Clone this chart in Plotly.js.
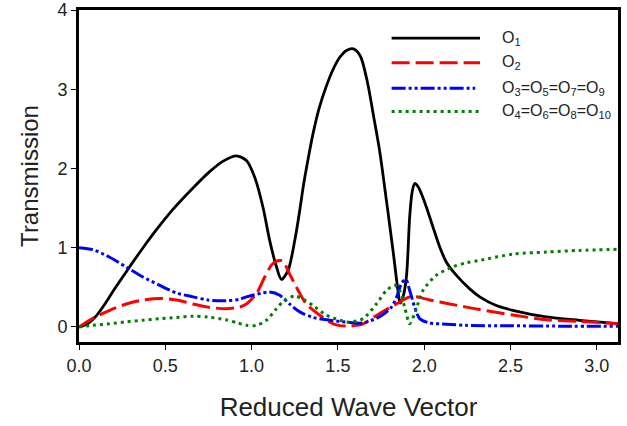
<!DOCTYPE html>
<html>
<head>
<meta charset="utf-8">
<script src="https://cdn.plot.ly/plotly-3.0.1.min.js"></script>
<style>html,body{margin:0;padding:0;background:#fff;}#chart{width:627px;height:426px;}</style>
</head>
<body>
<div id="chart"></div>
<script>
// ---- data ----
const o1X = [0, 0.05, 0.10, 0.15, 0.20, 0.25, 0.30, 0.368, 0.45, 0.543, 0.659, 0.757, 0.833, 0.912, 0.97, 1.018, 1.066, 1.105, 1.144, 1.173, 1.211, 1.25, 1.279, 1.30, 1.33, 1.356, 1.39, 1.43, 1.47, 1.51, 1.55, 1.59, 1.63, 1.67, 1.71, 1.742, 1.781, 1.819, 1.848, 1.86, 1.875, 1.897, 1.916, 1.93, 1.945, 1.965, 1.984, 2.013, 2.051, 2.09, 2.128, 2.187, 2.264, 2.322, 2.418, 2.513, 2.708, 2.90, 3.123];
const o1Y = [0, 0.04, 0.14, 0.29, 0.46, 0.62, 0.78, 0.99, 1.23, 1.48, 1.75, 1.96, 2.09, 2.16, 2.10, 1.89, 1.51, 1.09, 0.76, 0.60, 0.71, 1.09, 1.47, 1.78, 2.15, 2.44, 2.75, 3.02, 3.24, 3.40, 3.49, 3.51, 3.42, 3.10, 2.62, 2.22, 1.60, 0.97, 0.46, 0.30, 0.36, 0.63, 1.39, 1.70, 1.81, 1.77, 1.68, 1.51, 1.26, 1.01, 0.82, 0.65, 0.48, 0.38, 0.27, 0.21, 0.126, 0.084, 0.043];

const o2X = [0, 0.081, 0.178, 0.274, 0.371, 0.468, 0.564, 0.66, 0.747, 0.85, 0.93, 0.97, 1.028, 1.076, 1.115, 1.144, 1.165, 1.182, 1.22, 1.26, 1.317, 1.394, 1.472, 1.549, 1.607, 1.645, 1.742, 1.839, 1.916, 1.955, 2.032, 2.148, 2.245, 2.32, 2.515, 2.708, 2.90, 3.123];
const o2Y = [0, 0.11, 0.21, 0.29, 0.34, 0.36, 0.34, 0.29, 0.25, 0.23, 0.25, 0.29, 0.42, 0.63, 0.78, 0.83, 0.84, 0.83, 0.67, 0.50, 0.29, 0.15, 0.04, 0.01, 0.02, 0.04, 0.17, 0.29, 0.38, 0.38, 0.34, 0.29, 0.25, 0.22, 0.15, 0.09, 0.07, 0.04];

const o3X = [0, 0.081, 0.178, 0.274, 0.371, 0.468, 0.564, 0.66, 0.747, 0.85, 0.93, 0.97, 1.066, 1.105, 1.163, 1.22, 1.279, 1.356, 1.452, 1.549, 1.645, 1.742, 1.81, 1.848, 1.868, 1.893, 1.916, 1.945, 1.974, 2.032, 2.129, 2.245, 2.5, 2.8, 3.123];
const o3Y = [1.0, 0.975, 0.88, 0.755, 0.63, 0.525, 0.43, 0.38, 0.34, 0.33, 0.35, 0.38, 0.43, 0.44, 0.40, 0.29, 0.19, 0.12, 0.085, 0.06, 0.05, 0.13, 0.25, 0.42, 0.55, 0.60, 0.46, 0.25, 0.105, 0.05, 0.035, 0.02, 0.015, 0.01, 0.01];

const o4X = [0, 0.081, 0.178, 0.274, 0.371, 0.468, 0.564, 0.66, 0.747, 0.85, 0.92, 0.97, 1.028, 1.086, 1.144, 1.192, 1.25, 1.308, 1.356, 1.433, 1.51, 1.56, 1.645, 1.723, 1.781, 1.829, 1.858, 1.887, 1.916, 1.945, 1.993, 2.07, 2.167, 2.245, 2.322, 2.515, 2.708, 2.90, 3.123];
const o4Y = [0, 0.02, 0.04, 0.065, 0.085, 0.105, 0.12, 0.135, 0.125, 0.09, 0.05, 0.02, 0.02, 0.085, 0.23, 0.34, 0.39, 0.34, 0.27, 0.15, 0.085, 0.06, 0.105, 0.29, 0.46, 0.525, 0.46, 0.25, 0.04, 0.17, 0.46, 0.65, 0.76, 0.81, 0.84, 0.92, 0.945, 0.966, 0.98];

const seriesNames = ['O<sub>1</sub>', 'O<sub>2</sub>', 'O<sub>3</sub>=O<sub>5</sub>=O<sub>7</sub>=O<sub>9</sub>', 'O<sub>4</sub>=O<sub>6</sub>=O<sub>8</sub>=O<sub>10</sub>'];
const xTickVals = [0, 0.5, 1.0, 1.5, 2.0, 2.5, 3.0];
const yTickVals = [0, 1, 2, 3, 4];

// ---- styles ----
const colors = ['#000000', '#ff0000', '#0000ff', '#008000'];
const dashes = ['solid', '18px,6px', '14px,3px,3px,3px,3px,3px', '3px,4px'];
const widths = [2.8, 3, 3, 3];

const xs = [o1X, o2X, o3X, o4X];
const ys = [o1Y, o2Y, o3Y, o4Y];
const traces = xs.map((x, i) => ({
  x: x, y: ys[i], type: 'scatter', mode: 'lines', name: seriesNames[i],
  line: {color: colors[i], width: widths[i], dash: dashes[i], shape: 'spline', smoothing: 0.8},
  showlegend: false, hoverinfo: 'skip'
}));

// legend drawn as samples + labels in paper coords
const legRowY = [0.915, 0.841, 0.764, 0.694];
const legEnd = [0.744, 0.744, 0.735, 0.744];
const shapes = [], annotations = [];
legRowY.forEach((yy, i) => {
  shapes.push({type: 'line', xref: 'paper', yref: 'paper', x0: 0.580, x1: legEnd[i], y0: yy, y1: yy,
    line: {color: colors[i], width: widths[i], dash: dashes[i]}});
  annotations.push({xref: 'paper', yref: 'paper', x: 0.781, y: yy, xanchor: 'left', yanchor: 'middle',
    text: seriesNames[i], showarrow: false, font: {family: 'Liberation Sans, Arial, sans-serif', size: 16, color: '#222'}});
});

const axisFont = {family: 'Liberation Sans, Arial, sans-serif', size: 18, color: '#222'};
const layout = {
  width: 627, height: 426,
  margin: {l: 79, r: 9, t: 10, b: 84},
  paper_bgcolor: '#fff', plot_bgcolor: '#fff',
  showlegend: false,
  xaxis: {
    range: [0, 3.123], tickvals: xTickVals, ticktext: xTickVals.map(v => v.toFixed(1)),
    showgrid: false, zeroline: false, showline: true, mirror: true, linecolor: '#000', linewidth: 3,
    ticks: 'outside', ticklen: 5, tickwidth: 1, tickcolor: '#000', tickfont: axisFont,
    title: {text: 'Reduced Wave Vector', font: {family: 'Liberation Sans, Arial, sans-serif', size: 26, color: '#222'}, standoff: 24}
  },
  yaxis: {
    range: [-0.19, 4.0], tickvals: yTickVals,
    showgrid: false, zeroline: false, showline: true, mirror: true, linecolor: '#000', linewidth: 3,
    ticks: 'outside', ticklen: 5, tickwidth: 1, tickcolor: '#000', tickfont: axisFont,
    title: {text: 'Transmission', font: {family: 'Liberation Sans, Arial, sans-serif', size: 24, color: '#222'}, standoff: 12}
  },
  shapes: shapes, annotations: annotations
};

Plotly.newPlot('chart', traces, layout, {staticPlot: true, displayModeBar: false});
</script>
</body>
</html>
